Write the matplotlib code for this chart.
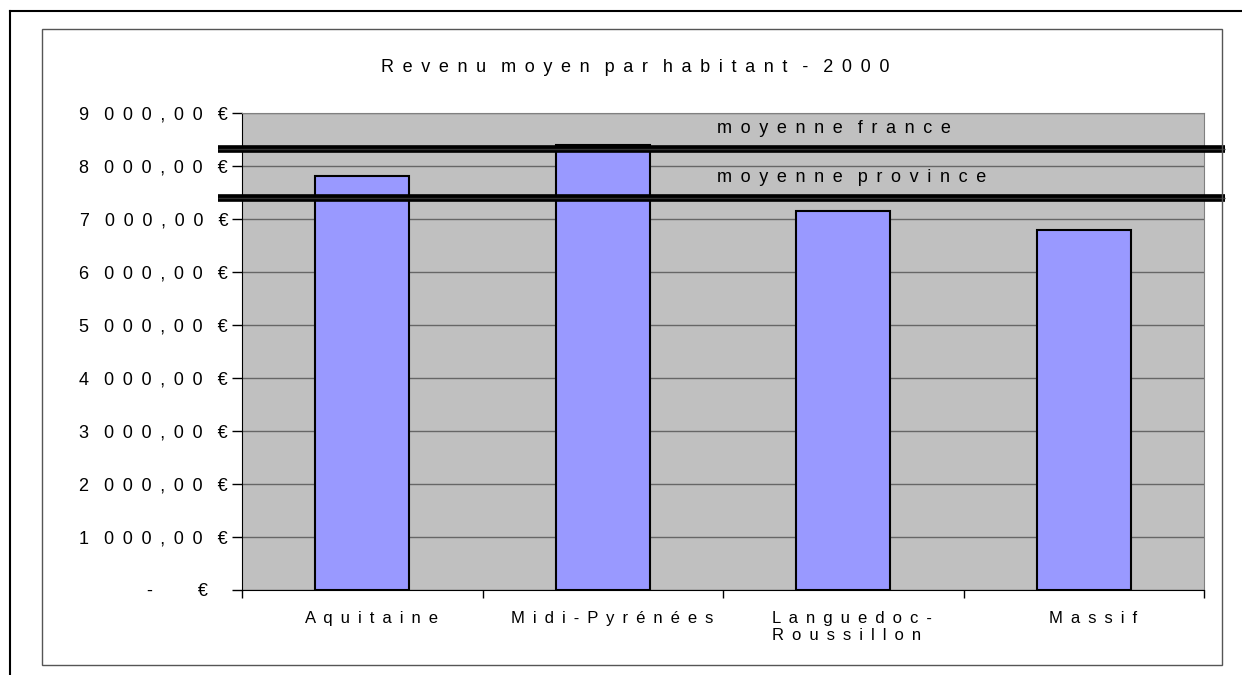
import matplotlib
matplotlib.use("Agg")
import matplotlib.pyplot as plt
from matplotlib.lines import Line2D
from matplotlib.patches import Rectangle
from matplotlib.ticker import FuncFormatter
from matplotlib.transforms import ScaledTranslation
import numpy as np

plt.rcParams['font.family'] = ['Liberation Sans', 'DejaVu Sans']

# data
regions = ['Aquitaine', 'Midi-Pyrénées', 'Languedoc-\nRoussillon', 'Massif']
revenu = [7820, 8400, 7160, 6790]
moyenne_france = 8320
moyenne_province = 7400
title = 'Revenu moyen par habitant - 2000'

GAP = ' \u2009'       # between letters
WORD_GAP = '   '      # between words


def spaced(s):
    # mimic the wide letter spacing of the original
    return '\n'.join(WORD_GAP.join(GAP.join(w) for w in line.split(' '))
                     for line in s.split('\n'))


def euro(v, pos):
    if v == 0:
        return '-         €    '
    return spaced(f"{int(v):,}".replace(',', ' ') + ',00 €')


W, H = 1242, 675
fig = plt.figure(figsize=(W / 100, H / 100), dpi=100)

# outer frame and inner chart frame
fig.add_artist(Line2D([10 / W, 10 / W], [0, 1 - 11 / H], color='black', lw=1.5))
fig.add_artist(Line2D([10 / W, 1], [1 - 11 / H, 1 - 11 / H], color='black', lw=1.5))
fig.add_artist(Rectangle((42 / W, 1 - 665 / H), (1222 - 42) / W, (665 - 29) / H,
                         fill=False, edgecolor='#555555', lw=1))

ax = fig.add_axes([242 / W, 1 - 590 / H, (1204 - 242) / W, (590 - 113) / H])
ax.set_facecolor('#C0C0C0')

x = np.arange(len(regions))
ax.bar(x, revenu, width=0.39, color='#9999FF', edgecolor='black', lw=1.5, zorder=3)
ax.set_xlim(-0.5, len(regions) - 0.5)
ax.set_ylim(0, 9000)

ax.set_yticks(np.arange(0, 9001, 1000))
ax.yaxis.set_major_formatter(FuncFormatter(euro))
ax.grid(axis='y', color='#666666', lw=1, zorder=1)
ax.tick_params(axis='y', length=7, width=1, labelsize=13, pad=3, direction='out')

ax.set_xticks(np.arange(-0.5, len(regions)), minor=False)
ax.set_xticklabels([])
ax.set_xticks(x, minor=True)
ax.set_xticklabels([spaced(r) for r in regions], minor=True, fontsize=12,
                   multialignment='left')
ax.tick_params(axis='x', which='minor', length=0, pad=15)
ax.tick_params(axis='x', which='major', length=6, width=1, direction='out')
shift = ScaledTranslation(9 / 100, 0, fig.dpi_scale_trans)
for lab in ax.get_xticklabels(minor=True):
    lab.set_transform(lab.get_transform() + shift)

for side in ['top', 'right']:
    ax.spines[side].set_color('#808080')
for side in ['left', 'bottom']:
    ax.spines[side].set_color('black')

# average lines running a bit past the plot area
trans = ax.get_yaxis_transform()
for yv, lab in [(moyenne_france, 'moyenne france'), (moyenne_province, 'moyenne province')]:
    ax.plot([-0.025, 1.022], [yv, yv], transform=trans, color='black', lw=5.5,
            clip_on=False, zorder=5, solid_capstyle='butt')
    ax.plot([-0.025, 1.022], [yv, yv], transform=trans, color='#333333', lw=1,
            clip_on=False, zorder=6, solid_capstyle='butt')
    ax.text(0.494, yv + 390, spaced(lab), transform=trans, fontsize=13,
            ha='left', va='center', zorder=6)

fig.text(635 / W, 1 - 68 / H, spaced(title), ha='center', va='center', fontsize=13)

fig.savefig('out.png', dpi=100)
